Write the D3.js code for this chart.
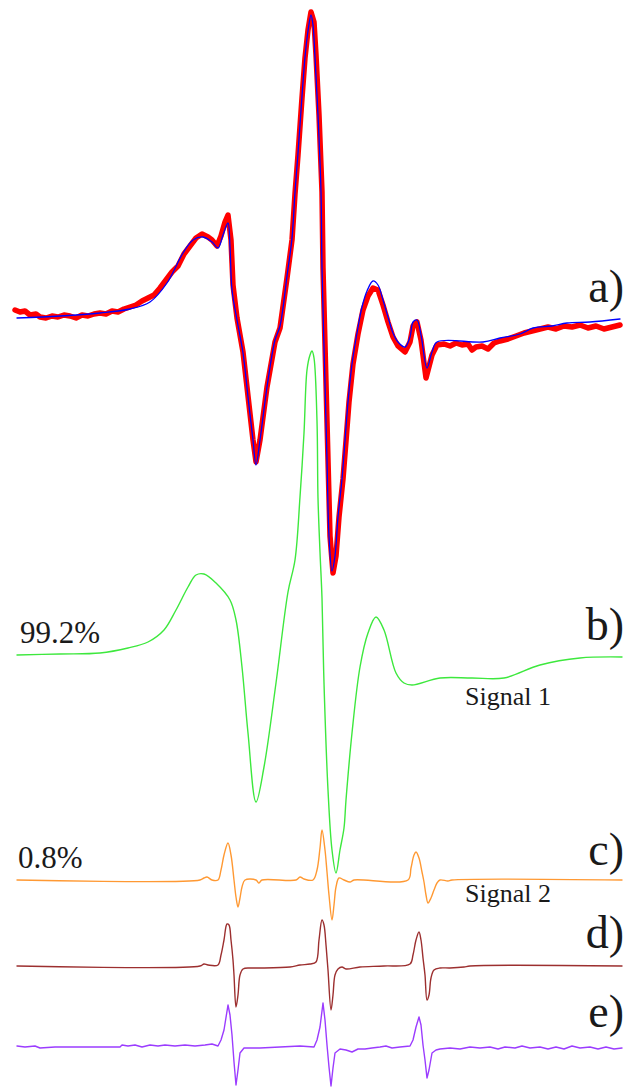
<!DOCTYPE html>
<html><head><meta charset="utf-8">
<script src="https://cdn.jsdelivr.net/npm/d3@7/dist/d3.min.js"></script>
<style>html,body{margin:0;padding:0;background:#fff;}svg{display:block;}</style>
</head><body>
<script>
// Field positions (arbitrary channel units) and intensities (a.u., relative to each trace baseline)
const expA = [[15,6],[20,4],[25,5],[30,1],[36,2],[40,-1],[46,-2],[52,0],[58,-1],[64,1],[70,0],[76,-2],[82,1],[88,0],[94,2],[100,3],[106,2],[112,5],[118,4],[124,7],[130,9],[136,11],[142,15],[148,18],[154,21],[160,28],[166,36],[172,44],[178,50],[184,62],[190,70],[196,78],[202,82],[208,79],[212,76],[217,70],[221,80],[225,94],[228,101],[231,76],[233,31],[237,-2],[243,-36],[248,-80],[253,-124],[256,-146],[260,-124],[267,-71],[275,-26],[280,-12],[287,38],[292,76],[295,122],[298,161],[302,218],[305,258],[308,286],[311,304],[314,294],[316,261],[319,201],[322,124],[323,48],[326,-67],[328,-144],[330,-220],[333,-257],[336,-240],[339,-201],[343,-163],[346,-125],[349,-86],[353,-48],[358,-18],[363,6],[368,20],[373,28],[378,26],[383,11],[388,-6],[393,-21],[398,-30],[405,-36],[410,-26],[413,-10],[417,-6],[421,-24],[426,-62],[432,-39],[437,-29],[444,-28],[450,-30],[456,-27],[462,-29],[468,-28],[472,-34],[476,-31],[482,-30],[488,-33],[494,-27],[500,-25],[508,-23],[516,-20],[524,-17],[532,-15],[540,-13],[548,-11],[556,-13],[564,-10],[572,-11],[580,-9],[588,-12],[596,-10],[604,-13],[612,-11],[620,-9]];
const fitA = [[17,-2],[60,0],[100,3],[130,7],[150,14],[167,33],[183,63],[193,76],[203,79],[212,74],[218,68],[223,81],[228,93],[230,69],[232,26],[237,-4],[243,-37],[248,-81],[253,-124],[256,-149],[260,-124],[267,-71],[275,-24],[280,-10],[287,40],[292,78],[295,124],[298,163],[302,220],[305,259],[308,285],[311,301],[313,291],[315,259],[318,201],[321,124],[322,48],[325,-67],[327,-144],[329,-220],[332,-255],[335,-240],[338,-201],[342,-163],[345,-125],[348,-86],[352,-48],[357,-17],[362,9],[367,25],[373,35],[378,31],[383,16],[388,-1],[393,-17],[398,-26],[405,-31],[410,-21],[413,-6],[417,-4],[421,-19],[427,-52],[432,-36],[437,-26],[483,-26],[500,-22],[520,-18],[533,-12],[552,-10],[567,-7],[590,-6],[620,-3]];
const signal1 = [[17,0],[60,1],[100,2],[128,7],[148,13],[164,25],[176,45],[188,68],[196,80],[204,81],[216,72],[230,55],[236,35],[242,-12],[248,-78],[256,-147],[264,-112],[276,-28],[288,63],[295,95],[300,158],[304,222],[307,285],[310,300],[312,304],[314,297],[317,234],[318,157],[320,103],[322,57],[324,-28],[328,-135],[332,-195],[336,-218],[340,-195],[344,-173],[346,-145],[352,-78],[360,-12],[368,22],[376,38],[384,25],[396,-18],[404,-28],[412,-30],[440,-23],[472,-23],[504,-23],[540,-10],[580,-3],[622,-2]];
const signal2 = [[17,0],[200,0],[204,2],[207,3],[212,0],[218,0],[221,10],[224,25],[228,37],[231,25],[234,0],[236,-17],[238,-27],[240,-18],[242,-7],[245,0],[256,0],[259,-3],[262,0],[296,0],[300,3],[304,1],[313,0],[317,10],[320,32],[322,50],[325,30],[327,8],[329,-15],[332,-40],[334,-25],[336,-7],[339,2],[344,0],[350,-2],[354,0],[408,0],[411,12],[414,25],[416,28],[419,22],[422,8],[424,-2],[426,-15],[428,-23],[431,-18],[434,-10],[437,-3],[440,0],[448,-1],[452,0],[622,0]];
const traceD = [[17,0],[200,0],[204,2],[208,1],[218,1],[221,11],[224,26],[227,42],[229,41],[231,26],[233,6],[234,-9],[236,-41],[238,-29],[240,-9],[243,-3],[250,-2],[260,-2],[290,-1],[300,1],[310,2],[316,4],[319,26],[322,46],[324,41],[326,21],[328,-4],[331,-44],[333,-29],[335,-9],[338,-3],[342,-1],[346,-3],[360,-1],[384,0],[410,2],[413,11],[416,26],[419,34],[421,26],[423,8],[425,-9],[427,-34],[429,-29],[431,-12],[434,-4],[440,-2],[450,-2],[464,-1],[470,0],[622,0]];
const traceE = [[17,1],[25,0],[35,1],[40,-1],[55,0],[75,0],[120,0],[122,2],[128,1],[135,2],[142,0],[150,2],[158,1],[165,2],[175,1],[185,2],[195,1],[205,2],[212,3],[218,1],[221,7],[224,17],[228,42],[230,32],[232,12],[234,-15],[236,-38],[238,-23],[240,-6],[244,-1],[260,-1],[280,0],[300,1],[314,0],[317,7],[320,20],[323,44],[325,27],[327,2],[329,-20],[331,-39],[333,-21],[335,-6],[340,-2],[346,-3],[352,-5],[358,-2],[365,-2],[372,-1],[380,0],[386,1],[392,-1],[400,0],[410,1],[413,7],[416,20],[419,30],[421,22],[423,2],[425,-13],[427,-31],[429,-23],[432,-6],[436,-3],[440,-2],[450,-1],[460,-2],[470,0],[480,-1],[490,0],[498,-2],[505,0],[515,-1],[522,1],[530,-1],[540,0],[548,-2],[556,0],[564,-2],[572,1],[580,-1],[590,0],[598,-2],[606,0],[614,-2],[622,-1]];
const panelLabels = ["a)","b)","c)","d)","e)"];
const percentLabels = ["99.2%","0.8%"];
const signalLabels = ["Signal 1","Signal 2"];

const W = 626, H = 1088;
const svg = d3.select("body").append("svg").attr("width", W).attr("height", H);
const x = d3.scaleLinear().domain([0, 626]).range([0, 626]);
const y = d3.scaleLinear().domain([-300, 300]).range([300, -300]);
const lineLin = d3.line().x(d => x(d[0])).y(d => y(d[1]));
const lineSmooth = d3.line().x(d => x(d[0])).y(d => y(d[1])).curve(d3.curveCatmullRom.alpha(0.5));

const traces = [
  {data: traceE, base: 1047, color: "#9b3cff", w: 1.4, smooth: false},
  {data: traceD, base: 966, color: "#9c2f2f", w: 1.4, smooth: true},
  {data: signal2, base: 880, color: "#ff9933", w: 1.4, smooth: true},
  {data: signal1, base: 655, color: "#3de83d", w: 1.4, smooth: true},
  {data: expA, base: 316, color: "#ff0000", w: 5.5, smooth: false},
  {data: fitA, base: 316, color: "#0000ff", w: 1.3, smooth: true}
];
traces.forEach(t => {
  svg.append("g").attr("transform", `translate(0,${t.base})`)
    .append("path").attr("d", (t.smooth ? lineSmooth : lineLin)(t.data))
    .attr("fill", "none").attr("stroke", t.color).attr("stroke-width", t.w)
    .attr("stroke-linejoin", "round").attr("stroke-linecap", "round");
});

const serif = '"Liberation Serif"';
const labelY = [302, 640, 865, 948, 1027];
panelLabels.forEach((l, i) => {
  svg.append("text").attr("x", 624).attr("y", labelY[i]).attr("text-anchor", "end")
    .style("font-family", serif).attr("font-size", 46).attr("fill", "#1a1a1a").text(l);
});
const pctPos = [[20, 643], [18, 868]];
percentLabels.forEach((l, i) => {
  svg.append("text").attr("x", pctPos[i][0]).attr("y", pctPos[i][1])
    .style("font-family", serif).attr("font-size", 31).attr("fill", "#1a1a1a").text(l);
});
const sigPos = [[465, 705], [465, 902]];
signalLabels.forEach((l, i) => {
  svg.append("text").attr("x", sigPos[i][0]).attr("y", sigPos[i][1])
    .style("font-family", serif).attr("font-size", 26).attr("fill", "#1a1a1a").text(l);
});
</script>
</body></html>
